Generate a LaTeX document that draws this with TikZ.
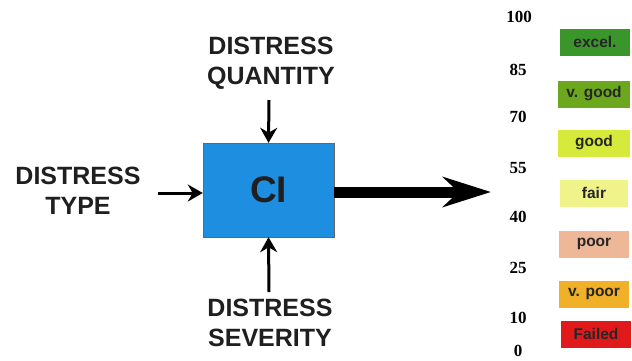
\documentclass[tikz,border=0pt]{standalone}
\usepackage{fontspec}
\setmainfont{Liberation Sans}
\newfontfamily\numfont{Liberation Serif}
\usetikzlibrary{arrows.meta}

\definecolor{ciblue}{HTML}{1E8FE0}
\definecolor{excelgreen}{HTML}{3A962A}
\definecolor{vgoodgreen}{HTML}{6CA81E}
\definecolor{goodyellow}{HTML}{D6EA3C}
\definecolor{fairyellow}{HTML}{F0F28A}
\definecolor{poorsalmon}{HTML}{EEB898}
\definecolor{vpoororange}{HTML}{F0B028}
\definecolor{failedred}{HTML}{E01A1A}

\tikzset{
  inlabel/.style={font=\fontsize{25}{30}\selectfont\bfseries, align=center, text=black!88},
  rate/.style={minimum width=70pt, minimum height=27pt, inner sep=0pt,
    font=\fontsize{15.5}{18}\selectfont\bfseries, text=black!85},
  score/.style={font=\numfont\fontsize{17}{19}\selectfont\bfseries}
}

\begin{document}
\begin{tikzpicture}[x=1pt, y=-1pt, >={Stealth[length=15pt, width=17pt]}]
    \useasboundingbox (0,0) rectangle (632,360);

    \node[draw=black!60, fill=ciblue, minimum width=131pt, minimum height=94pt,
          font=\fontsize{37}{40}\selectfont\bfseries, text=black!88]
          (ci) at (268.5,190) {CI};

    \node[inlabel] (quantity) at (271,63) {DISTRESS\\QUANTITY};
    \node[inlabel] (type) at (78,191) {DISTRESS\\TYPE};
    \node[inlabel] (severity) at (270,323) {DISTRESS\\SEVERITY};

    \coordinate (qend) at (269,100);
    \coordinate (tend) at (158,193);
    \coordinate (send) at (269,292);
    \coordinate (outend) at (491,192);

    \draw[->, line width=3pt] (qend) -- (ci.north);
    \draw[->, line width=3pt] (tend) -- (tend -| ci.west);
    \draw[->, line width=3pt] (send) -- (ci.south);
    \draw[-{Stealth[length=48pt, width=30pt]}, line width=11pt] (ci.east |- outend) -- (outend);

    % scale values
    \node[score] (s100) at (519,17) {100};
    \node[score] (s85) at (518,70) {85};
    \node[score] (s70) at (518,117) {70};
    \node[score] (s55) at (518,168) {55};
    \node[score] (s40) at (518,217) {40};
    \node[score] (s25) at (518,268) {25};
    \node[score] (s10) at (518,318) {10};
    \node[score] (s0) at (518,351) {0};

    % condition ratings
    \node[rate, fill=excelgreen] (excel) at (595,42) {excel.};
    \node[rate, fill=vgoodgreen, minimum width=72pt] (vgood) at (594,94) {v. good};
    \node[rate, fill=goodyellow, minimum width=72pt] (good) at (594,143) {good};
    \node[rate, fill=fairyellow, minimum width=68pt] (fair) at (594,193) {fair};
    \node[rate, fill=poorsalmon] (poor) at (594,244) {poor};
    \node[rate, fill=vpoororange] (vpoor) at (594,294) {v. poor};
    \node[rate, fill=failedred] (failed) at (596,334) {Failed};
\end{tikzpicture}
\end{document}
